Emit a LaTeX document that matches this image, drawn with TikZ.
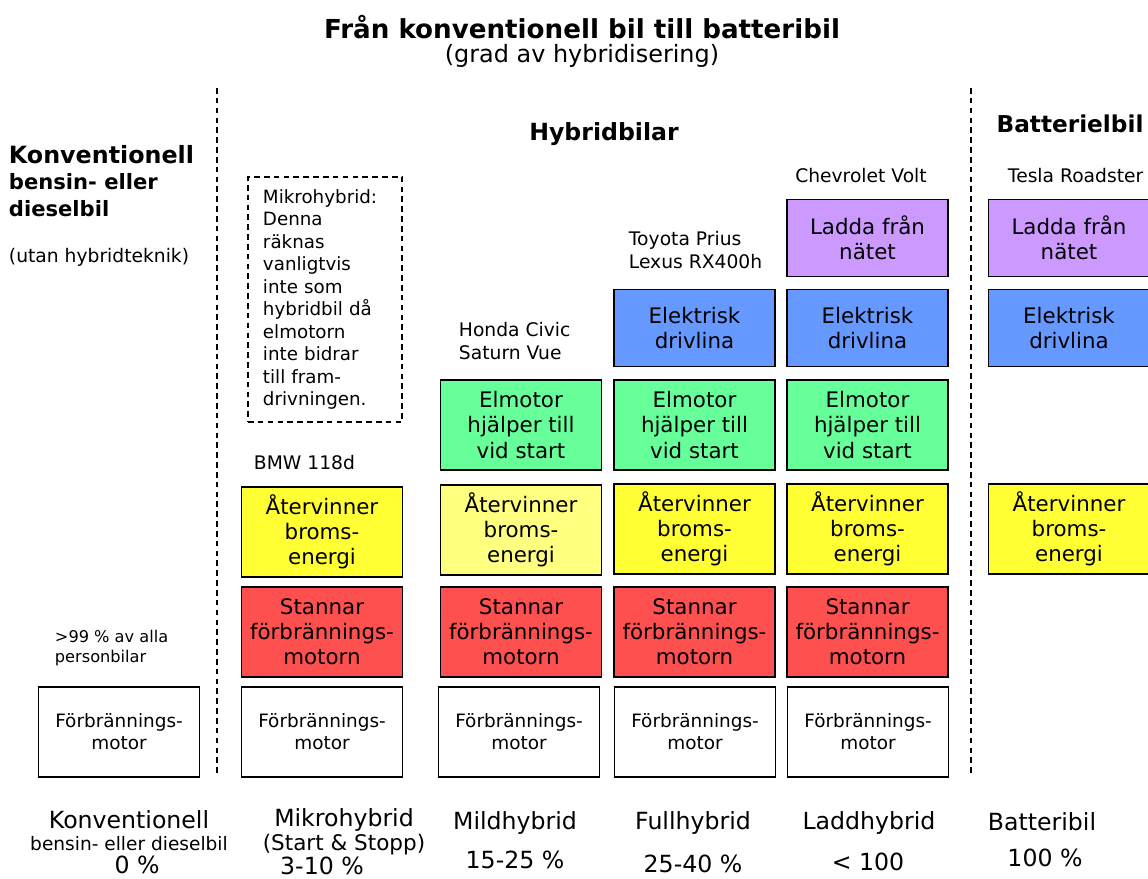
\documentclass[tikz,border=0pt]{standalone}
\usepackage{fontspec}
\setmainfont{DejaVu Sans}
\definecolor{bromsgul}{HTML}{FFFF33}
\definecolor{ljusgul}{HTML}{FFFF80}
\definecolor{stopprod}{HTML}{FF5050}
\definecolor{elmgron}{HTML}{66FF99}
\definecolor{drivbla}{HTML}{6699FF}
\definecolor{laddlila}{HTML}{CC99FF}

\begin{document}
\begin{tikzpicture}[x=0.025cm,y=-0.025cm,
    box/.style={draw,line width=1.1pt,minimum width=4.02cm,minimum height=2.25cm,
      align=center,inner sep=1pt,font=\fontsize{15.2}{17.8}\selectfont},
    motorbox/.style={box,line width=0.9pt,font=\fontsize{13.1}{15.6}\selectfont},
    flatbox/.style={box,minimum height=1.92cm},
    model/.style={anchor=west,align=left,font=\fontsize{13.3}{16.5}\selectfont},
    typ/.style={inner sep=1pt,font=\fontsize{16.8}{19}\selectfont},
    sep/.style={line width=1.2pt,dash pattern=on 4pt off 3pt}]
    \useasboundingbox (0,0) rectangle (1148,879);

    % rubrik
    \node[font=\fontsize{18.6}{22}\selectfont\bfseries] (title) at (582,27) {Från konventionell bil till batteribil};
    \node[font=\fontsize{17}{20}\selectfont] (subtitle) at (582,56) {(grad av hybridisering)};

    % skiljelinjer
    \draw[sep] (217,88)--(217,777);
    \draw[sep] (971,88)--(971,777);

    % grupprubriker
    \node[anchor=west,font=\fontsize{16.9}{20}\selectfont\bfseries] (konv) at (4,155) {Konventionell};
    \node[anchor=north west,align=left,font=\fontsize{15}{19.2}\selectfont\bfseries] (konvsub) at (4,169) {bensin- eller\\dieselbil};
    \node[anchor=west,font=\fontsize{13.3}{16}\selectfont] (utan) at (4,257) {(utan hybridteknik)};
    \node[font=\fontsize{16.8}{20}\selectfont\bfseries] (hybrid) at (604,134) {Hybridbilar};
    \node[font=\fontsize{16.5}{20}\selectfont\bfseries] (batteri) at (1070,124) {Batterielbil};

    % bilmodeller
    \node[anchor=west,align=left,font=\fontsize{11.5}{14.2}\selectfont] (andel) at (50,648) {>99 \% av alla\\personbilar};
    \node[model] (bmw) at (249,463) {BMW 118d};
    \node[model] (honda) at (454,341) {Honda Civic\\Saturn Vue};
    \node[model] (toyota) at (624,250) {Toyota Prius\\Lexus RX400h};
    \node[model,anchor=center] (volt) at (861,176) {Chevrolet Volt};
    \node[model] (tesla) at (1003,176) {Tesla Roadster};

    % mikrohybrid-kommentar
    \node[draw,sep,minimum width=3.85cm,minimum height=6.125cm,text width=3.1cm,align=left,
      font=\fontsize{13}{16}\selectfont] (mikronot) at (325,299.5)
      {Mikrohybrid:\\Denna\\räknas\\vanligtvis\\inte som\\hybridbil då\\elmotorn\\inte bidrar\\till fram-\\drivningen.};

    % konventionell
    \node[motorbox] (konv-motor) at (119,732) {Förbrännings-\\motor};

    % mikrohybrid
    \node[box,fill=bromsgul] (mikro-broms) at (322,532) {Återvinner\\broms-\\energi};
    \node[box,fill=stopprod] (mikro-stopp) at (322,632) {Stannar\\förbrännings-\\motorn};
    \node[motorbox] (mikro-motor) at (322,732) {Förbrännings-\\motor};

    % mildhybrid
    \node[box,fill=elmgron] (mild-elm) at (521,425) {Elmotor\\hjälper till\\vid start};
    \node[box,fill=ljusgul] (mild-broms) at (521,530) {Återvinner\\broms-\\energi};
    \node[box,fill=stopprod] (mild-stopp) at (521,632) {Stannar\\förbrännings-\\motorn};
    \node[motorbox] (mild-motor) at (519,732) {Förbrännings-\\motor};

    % fullhybrid
    \node[flatbox,fill=drivbla] (full-driv) at (694.5,328) {Elektrisk\\drivlina};
    \node[box,fill=elmgron] (full-elm) at (694.5,425) {Elmotor\\hjälper till\\vid start};
    \node[box,fill=bromsgul] (full-broms) at (694.5,529) {Återvinner\\broms-\\energi};
    \node[box,fill=stopprod] (full-stopp) at (694.5,632) {Stannar\\förbrännings-\\motorn};
    \node[motorbox] (full-motor) at (695,732) {Förbrännings-\\motor};

    % laddhybrid
    \node[flatbox,fill=laddlila] (ladd-nat) at (867.5,238) {Ladda från\\nätet};
    \node[flatbox,fill=drivbla] (ladd-driv) at (867.5,328) {Elektrisk\\drivlina};
    \node[box,fill=elmgron] (ladd-elm) at (867.5,425) {Elmotor\\hjälper till\\vid start};
    \node[box,fill=bromsgul] (ladd-broms) at (867.5,529) {Återvinner\\broms-\\energi};
    \node[box,fill=stopprod] (ladd-stopp) at (867.5,632) {Stannar\\förbrännings-\\motorn};
    \node[motorbox] (ladd-motor) at (868,732) {Förbrännings-\\motor};

    % batteribil
    \node[flatbox,fill=laddlila] (batt-nat) at (1069,238) {Ladda från\\nätet};
    \node[flatbox,fill=drivbla] (batt-driv) at (1069,328) {Elektrisk\\drivlina};
    \node[box,fill=bromsgul] (batt-broms) at (1069,529) {Återvinner\\broms-\\energi};

    % grad av hybridisering
    \node[typ] (t-konv) at (129,820) {Konventionell};
    \node[typ,font=\fontsize{13.2}{15}\selectfont] (t-konv2) at (129,844) {bensin- eller dieselbil};
    \node[typ] (p-konv) at (137,865) {0 \%};
    \node[typ] (t-mikro) at (344,820) {Mikrohybrid};
    \node[typ,font=\fontsize{15.3}{17}\selectfont] (t-mikro2) at (344,845) {(Start \& Stopp)};
    \node[typ] (p-mikro) at (322,866) {3-10 \%};
    \node[typ] (t-mild) at (515,823) {Mildhybrid};
    \node[typ] (p-mild) at (515,860) {15-25 \%};
    \node[typ] (t-full) at (693,823) {Fullhybrid};
    \node[typ] (p-full) at (693,864) {25-40 \%};
    \node[typ] (t-ladd) at (869,823) {Laddhybrid};
    \node[typ] (p-ladd) at (868,862) {< 100};
    \node[typ] (t-batt) at (1042,822) {Batteribil};
    \node[typ] (p-batt) at (1045,858) {100 \%};
\end{tikzpicture}
\end{document}
